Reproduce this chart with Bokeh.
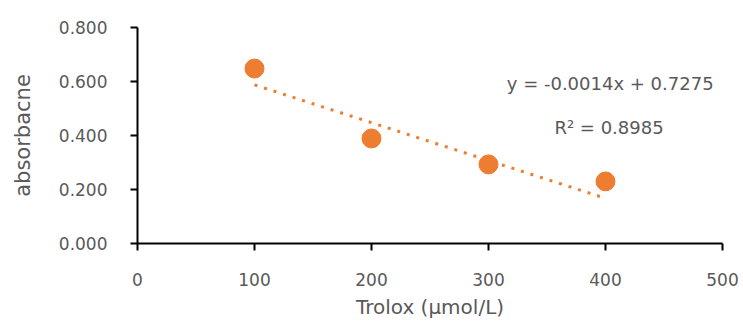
from bokeh.plotting import figure
from bokeh.models import Range1d, FixedTicker, Label, CustomJSTickFormatter
from bokeh.embed import file_html
from bokeh.resources import INLINE

# data
trolox = [100, 200, 300, 400]
absorbance = [0.648, 0.389, 0.293, 0.230]
slope = -0.0014
intercept = 0.7275
r2 = 0.8985
x_ticks = [0, 100, 200, 300, 400, 500]
y_ticks = [0.0, 0.2, 0.4, 0.6, 0.8]
eq_text = "y = -0.0014x + 0.7275"
r2_text = "R² = 0.8985"

ORANGE = "#ED7D31"
GRAY = "#595959"
FONT = "DejaVu Sans"

p = figure(width=743, height=321, output_backend="svg", toolbar_location=None,
           x_range=Range1d(0, 500), y_range=Range1d(0, 0.8),
           min_border_left=137, min_border_right=21, min_border_top=27, min_border_bottom=78)
p.outline_line_color = None
p.grid.grid_line_color = None
p.background_fill_color = "white"
p.border_fill_color = "white"

# trend line
tx = [trolox[0], trolox[-1]]
ty = [slope * v + intercept for v in tx]
p.line(tx, ty, line_color=ORANGE, line_width=3, line_dash="3 7")

p.scatter(trolox, absorbance, size=19, fill_color=ORANGE, line_color=ORANGE)

for ax in (p.xaxis[0], p.yaxis[0]):
    ax.axis_line_color = "black"
    ax.axis_line_width = 2
    ax.major_tick_line_color = "black"
    ax.major_tick_line_width = 2
    ax.major_tick_out = 7
    ax.major_tick_in = 0
    ax.minor_tick_line_color = None
    ax.major_label_text_font = FONT
    ax.major_label_text_font_size = "17px"
    ax.major_label_text_color = GRAY
    ax.axis_label_text_font = FONT
    ax.axis_label_text_font_size = "20px"
    ax.axis_label_text_color = GRAY
    ax.axis_label_text_font_style = "normal"

p.xaxis.ticker = FixedTicker(ticks=x_ticks)
p.yaxis.ticker = FixedTicker(ticks=y_ticks)
p.yaxis.formatter = CustomJSTickFormatter(code="return tick.toFixed(3);")
p.xaxis.axis_label = "Trolox (µmol/L)"
p.yaxis.axis_label = "absorbacne"
p.yaxis.axis_label_text_font_size = "21px"
p.yaxis.major_label_standoff = 23
p.yaxis.axis_label_standoff = 21
p.xaxis.major_label_standoff = 22
p.xaxis.axis_label_standoff = 6

p.add_layout(Label(x=404, y=0.593, text=eq_text, text_align="center", text_baseline="middle",
                   text_font=FONT, text_font_size="18px", text_color=GRAY))
p.add_layout(Label(x=403, y=0.43, text=r2_text, text_align="center", text_baseline="middle",
                   text_font=FONT, text_font_size="18px", text_color=GRAY))

open("out.html", "w").write(file_html(p, INLINE))
